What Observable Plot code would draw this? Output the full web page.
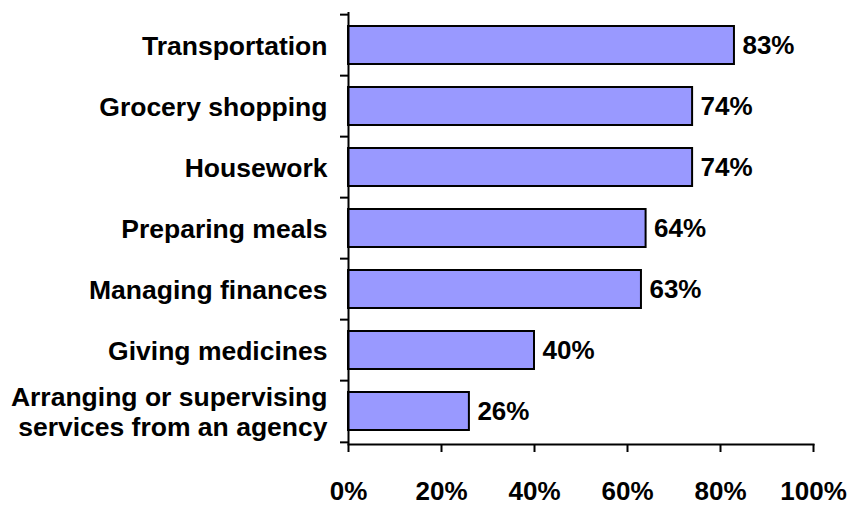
<!DOCTYPE html>
<html>
<head>
<meta charset="utf-8">
<script src="https://cdn.jsdelivr.net/npm/d3@7"></script>
<script src="https://cdn.jsdelivr.net/npm/@observablehq/plot@0.6"></script>
<style>
  html, body { margin: 0; padding: 0; background: #fff; }
  #chart { width: 849px; height: 506px; }
  svg { font-family: "Liberation Sans", Arial, sans-serif; }
</style>
</head>
<body>
<div id="chart"></div>
<script>
const categories = [
  "Transportation",
  "Grocery shopping",
  "Housework",
  "Preparing meals",
  "Managing finances",
  "Giving medicines",
  "Arranging or supervising\nservices from an agency"
];
const values = [83, 74, 74, 64, 63, 40, 26];
const xTicks = [0, 20, 40, 60, 80, 100];

const data = categories.map((c, i) => ({category: c, value: values[i]}));

const W = 849, H = 506, mTop = 12, mBottom = 62, mLeft = 348, mRight = 36;
const step = (H - mTop - mBottom) / categories.length;
const last = categories[categories.length - 1];

const chart = Plot.plot({
  width: W,
  height: H,
  marginTop: mTop,
  marginBottom: mBottom,
  marginLeft: mLeft,
  marginRight: mRight,
  style: {fontFamily: "'Liberation Sans', Arial, sans-serif", color: "#000", background: "#fff", overflow: "visible"},
  x: {domain: [0, 100], axis: null},
  y: {domain: categories, paddingInner: 0.38, paddingOuter: 0.19, axis: null},
  marks: [
    Plot.barX(data, {x: "value", y: "category", fill: "#9999ff", stroke: "#000", strokeWidth: 2}),
    Plot.text(data, {x: "value", y: "category", text: d => d.value + "%", dx: 8, textAnchor: "start",
      fontSize: 26, fontWeight: "bold", fill: "#000"}),
    // y labels
    Plot.axisY({tickSize: 0, tickPadding: 21, fontSize: 26.5, fontWeight: "bold", color: "#000", label: null, lineHeight: 1.15}),
    // y boundary tick marks
    Plot.axisY({tickSize: 8, tickFormat: () => "", dy: -step / 2, strokeWidth: 2, color: "#000", label: null}),
    Plot.axisY([last], {tickSize: 8, tickFormat: () => "", dy: step / 2, strokeWidth: 2, color: "#000", label: null}),
    // axis lines
    Plot.ruleX([0], {stroke: "#000", strokeWidth: 2}),
    Plot.frame({anchor: "bottom", stroke: "#000", strokeWidth: 2}),
    // x axis
    Plot.axisX({ticks: xTicks, tickFormat: d => d + "%", tickSize: 8, tickPadding: 29, strokeWidth: 2,
      fontSize: 26, fontWeight: "bold", color: "#000", label: null})
  ]
});
document.getElementById("chart").appendChild(chart);
</script>
</body>
</html>
